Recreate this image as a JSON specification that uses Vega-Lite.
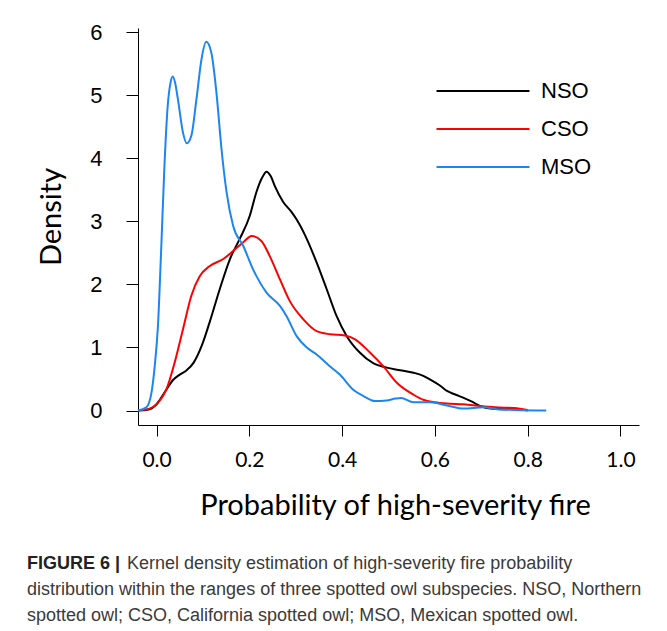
{
  "$schema": "https://vega.github.io/schema/vega-lite/v6.json",
  "width": 501,
  "height": 397,
  "autosize": {"type": "none"},
  "padding": {"left": 138, "top": 28, "right": 28, "bottom": 206},
  "background": "white",
  "title": {
    "text": "FIGURE 6 |",
    "subtitle": [
      "\u200b\u00a0\u00a0\u00a0\u00a0\u00a0\u00a0\u00a0\u00a0\u00a0\u00a0\u00a0\u00a0\u00a0\u00a0\u00a0\u00a0\u00a0\u00a0\u00a0\u00a0Kernel density estimation of high-severity fire probability",
      "distribution within the ranges of three spotted owl subspecies. NSO, Northern",
      "spotted owl; CSO, California spotted owl; MSO, Mexican spotted owl."
    ],
    "orient": "bottom",
    "anchor": "start",
    "frame": "group",
    "dx": -111,
    "offset": 35,
    "font": "Liberation Sans",
    "fontSize": 18,
    "fontWeight": "bold",
    "color": "#222222",
    "subtitleFont": "Liberation Sans",
    "subtitleFontSize": 18,
    "subtitleColor": "#3a3a3a",
    "subtitleLineHeight": 26,
    "subtitlePadding": -18
  },
  "data": {
    "values": [
      {"s": "NSO", "x": -0.04, "y": 0},
      {"s": "NSO", "x": -0.02, "y": 0.01},
      {"s": "NSO", "x": 0.0, "y": 0.1},
      {"s": "NSO", "x": 0.021, "y": 0.33},
      {"s": "NSO", "x": 0.035, "y": 0.48},
      {"s": "NSO", "x": 0.05, "y": 0.57},
      {"s": "NSO", "x": 0.065, "y": 0.64},
      {"s": "NSO", "x": 0.08, "y": 0.76},
      {"s": "NSO", "x": 0.097, "y": 1.02},
      {"s": "NSO", "x": 0.114, "y": 1.39},
      {"s": "NSO", "x": 0.136, "y": 1.92},
      {"s": "NSO", "x": 0.158, "y": 2.4},
      {"s": "NSO", "x": 0.179, "y": 2.72},
      {"s": "NSO", "x": 0.201, "y": 3.09},
      {"s": "NSO", "x": 0.215, "y": 3.46},
      {"s": "NSO", "x": 0.228, "y": 3.7},
      {"s": "NSO", "x": 0.237, "y": 3.79},
      {"s": "NSO", "x": 0.246, "y": 3.72},
      {"s": "NSO", "x": 0.255, "y": 3.56},
      {"s": "NSO", "x": 0.273, "y": 3.31},
      {"s": "NSO", "x": 0.29, "y": 3.16},
      {"s": "NSO", "x": 0.302, "y": 3.03},
      {"s": "NSO", "x": 0.324, "y": 2.72},
      {"s": "NSO", "x": 0.345, "y": 2.35},
      {"s": "NSO", "x": 0.367, "y": 1.92},
      {"s": "NSO", "x": 0.388, "y": 1.5},
      {"s": "NSO", "x": 0.41, "y": 1.18},
      {"s": "NSO", "x": 0.438, "y": 0.92},
      {"s": "NSO", "x": 0.467, "y": 0.75},
      {"s": "NSO", "x": 0.496, "y": 0.68},
      {"s": "NSO", "x": 0.525, "y": 0.64},
      {"s": "NSO", "x": 0.554, "y": 0.6},
      {"s": "NSO", "x": 0.575, "y": 0.55},
      {"s": "NSO", "x": 0.59, "y": 0.49},
      {"s": "NSO", "x": 0.61, "y": 0.4},
      {"s": "NSO", "x": 0.626, "y": 0.31},
      {"s": "NSO", "x": 0.645, "y": 0.25},
      {"s": "NSO", "x": 0.662, "y": 0.2},
      {"s": "NSO", "x": 0.68, "y": 0.14},
      {"s": "NSO", "x": 0.698, "y": 0.07},
      {"s": "NSO", "x": 0.72, "y": 0.03},
      {"s": "NSO", "x": 0.75, "y": 0.02},
      {"s": "NSO", "x": 0.77, "y": 0.03},
      {"s": "NSO", "x": 0.79, "y": 0.01},
      {"s": "NSO", "x": 0.8, "y": 0.0},
      {"s": "CSO", "x": -0.04, "y": 0},
      {"s": "CSO", "x": -0.015, "y": 0.03},
      {"s": "CSO", "x": 0.003, "y": 0.12},
      {"s": "CSO", "x": 0.021, "y": 0.33},
      {"s": "CSO", "x": 0.039, "y": 0.76},
      {"s": "CSO", "x": 0.057, "y": 1.29},
      {"s": "CSO", "x": 0.075, "y": 1.82},
      {"s": "CSO", "x": 0.093, "y": 2.13},
      {"s": "CSO", "x": 0.114, "y": 2.29},
      {"s": "CSO", "x": 0.143, "y": 2.4},
      {"s": "CSO", "x": 0.165, "y": 2.53},
      {"s": "CSO", "x": 0.187, "y": 2.67},
      {"s": "CSO", "x": 0.205, "y": 2.77},
      {"s": "CSO", "x": 0.226, "y": 2.69},
      {"s": "CSO", "x": 0.244, "y": 2.45},
      {"s": "CSO", "x": 0.266, "y": 2.08},
      {"s": "CSO", "x": 0.287, "y": 1.74},
      {"s": "CSO", "x": 0.316, "y": 1.45},
      {"s": "CSO", "x": 0.345, "y": 1.26},
      {"s": "CSO", "x": 0.374, "y": 1.21},
      {"s": "CSO", "x": 0.406, "y": 1.19},
      {"s": "CSO", "x": 0.428, "y": 1.13},
      {"s": "CSO", "x": 0.46, "y": 0.92},
      {"s": "CSO", "x": 0.489, "y": 0.7},
      {"s": "CSO", "x": 0.518, "y": 0.44},
      {"s": "CSO", "x": 0.554, "y": 0.25},
      {"s": "CSO", "x": 0.575, "y": 0.17},
      {"s": "CSO", "x": 0.6, "y": 0.13},
      {"s": "CSO", "x": 0.626, "y": 0.11},
      {"s": "CSO", "x": 0.662, "y": 0.1},
      {"s": "CSO", "x": 0.698, "y": 0.07},
      {"s": "CSO", "x": 0.73, "y": 0.05},
      {"s": "CSO", "x": 0.77, "y": 0.04},
      {"s": "CSO", "x": 0.79, "y": 0.02},
      {"s": "CSO", "x": 0.8, "y": 0.01},
      {"s": "MSO", "x": -0.04, "y": 0},
      {"s": "MSO", "x": -0.022, "y": 0.05},
      {"s": "MSO", "x": -0.011, "y": 0.28},
      {"s": "MSO", "x": -0.004, "y": 0.7},
      {"s": "MSO", "x": 0.003, "y": 1.34},
      {"s": "MSO", "x": 0.01, "y": 2.56},
      {"s": "MSO", "x": 0.017, "y": 3.88},
      {"s": "MSO", "x": 0.024, "y": 4.83},
      {"s": "MSO", "x": 0.03, "y": 5.2},
      {"s": "MSO", "x": 0.035, "y": 5.3},
      {"s": "MSO", "x": 0.04, "y": 5.2},
      {"s": "MSO", "x": 0.046, "y": 4.94},
      {"s": "MSO", "x": 0.057, "y": 4.41},
      {"s": "MSO", "x": 0.065, "y": 4.24},
      {"s": "MSO", "x": 0.075, "y": 4.36},
      {"s": "MSO", "x": 0.086, "y": 4.94},
      {"s": "MSO", "x": 0.097, "y": 5.58},
      {"s": "MSO", "x": 0.107, "y": 5.85},
      {"s": "MSO", "x": 0.118, "y": 5.68},
      {"s": "MSO", "x": 0.129, "y": 5.05},
      {"s": "MSO", "x": 0.14, "y": 4.15},
      {"s": "MSO", "x": 0.151, "y": 3.46},
      {"s": "MSO", "x": 0.165, "y": 2.93},
      {"s": "MSO", "x": 0.187, "y": 2.61},
      {"s": "MSO", "x": 0.208, "y": 2.24},
      {"s": "MSO", "x": 0.237, "y": 1.87},
      {"s": "MSO", "x": 0.266, "y": 1.66},
      {"s": "MSO", "x": 0.28, "y": 1.5},
      {"s": "MSO", "x": 0.302, "y": 1.18},
      {"s": "MSO", "x": 0.324, "y": 1.0},
      {"s": "MSO", "x": 0.345, "y": 0.89},
      {"s": "MSO", "x": 0.374, "y": 0.7},
      {"s": "MSO", "x": 0.395, "y": 0.57},
      {"s": "MSO", "x": 0.424, "y": 0.33},
      {"s": "MSO", "x": 0.446, "y": 0.23},
      {"s": "MSO", "x": 0.471, "y": 0.15},
      {"s": "MSO", "x": 0.496, "y": 0.16},
      {"s": "MSO", "x": 0.515, "y": 0.19},
      {"s": "MSO", "x": 0.527, "y": 0.2},
      {"s": "MSO", "x": 0.554, "y": 0.13},
      {"s": "MSO", "x": 0.59, "y": 0.13},
      {"s": "MSO", "x": 0.626, "y": 0.08},
      {"s": "MSO", "x": 0.662, "y": 0.03},
      {"s": "MSO", "x": 0.705, "y": 0.05},
      {"s": "MSO", "x": 0.734, "y": 0.02},
      {"s": "MSO", "x": 0.77, "y": 0.01},
      {"s": "MSO", "x": 0.84, "y": 0.0}
    ]
  },
  "mark": {"type": "line", "strokeWidth": 2, "interpolate": "monotone"},
  "encoding": {
    "x": {
      "field": "x",
      "type": "quantitative",
      "scale": {"domain": [-0.04, 1.04], "nice": false, "zero": false},
      "axis": {
        "values": [0, 0.2, 0.4, 0.6, 0.8, 1],
        "format": ".1f",
        "grid": false,
        "domainColor": "#000000",
        "tickColor": "#000000",
        "tickSize": 11,
        "labelPadding": 13,
        "labelFont": "Lato",
        "labelFontSize": 21,
        "labelColor": "#000000",
        "labelFlush": false,
        "labelOverlap": false,
        "title": "Probability of high-severity fire",
        "titleFont": "Lato",
        "titleFontSize": 29,
        "titleFontWeight": "normal",
        "titleColor": "#000000",
        "titleX": 257,
        "titleY": 89,
        "titleBaseline": "alphabetic",
        "titleAlign": "center"
      }
    },
    "y": {
      "field": "y",
      "type": "quantitative",
      "scale": {"domain": [-0.23, 6.07], "nice": false, "zero": false},
      "axis": {
        "values": [0, 1, 2, 3, 4, 5, 6],
        "grid": false,
        "domainColor": "#000000",
        "tickColor": "#000000",
        "tickSize": 12,
        "labelPadding": 24,
        "labelFont": "Liberation Sans",
        "labelFontSize": 22,
        "labelColor": "#000000",
        "labelFlush": false,
        "labelOverlap": false,
        "title": "Density",
        "titleFont": "Lato",
        "titleFontSize": 29,
        "titleFontWeight": "normal",
        "titleColor": "#000000",
        "titleAngle": 270,
        "titleX": -78,
        "titleY": 188.5,
        "titleBaseline": "alphabetic",
        "titleAlign": "center"
      }
    },
    "color": {
      "field": "s",
      "type": "nominal",
      "scale": {"domain": ["NSO", "CSO", "MSO"], "range": ["#000000", "#ff0000", "#1c86ee"]},
      "legend": {
        "orient": "none",
        "legendX": 332,
        "legendY": 50,
        "title": null,
        "padding": 0,
        "symbolType": "M-4,0H4",
        "symbolSize": 540,
        "symbolStrokeWidth": 2,
        "labelOffset": 45,
        "labelFont": "Liberation Sans",
        "labelFontSize": 22,
        "labelColor": "#000000",
        "labelBaseline": "middle",
        "rowPadding": 14
      }
    }
  },
  "config": {"view": {"stroke": null}}
}
